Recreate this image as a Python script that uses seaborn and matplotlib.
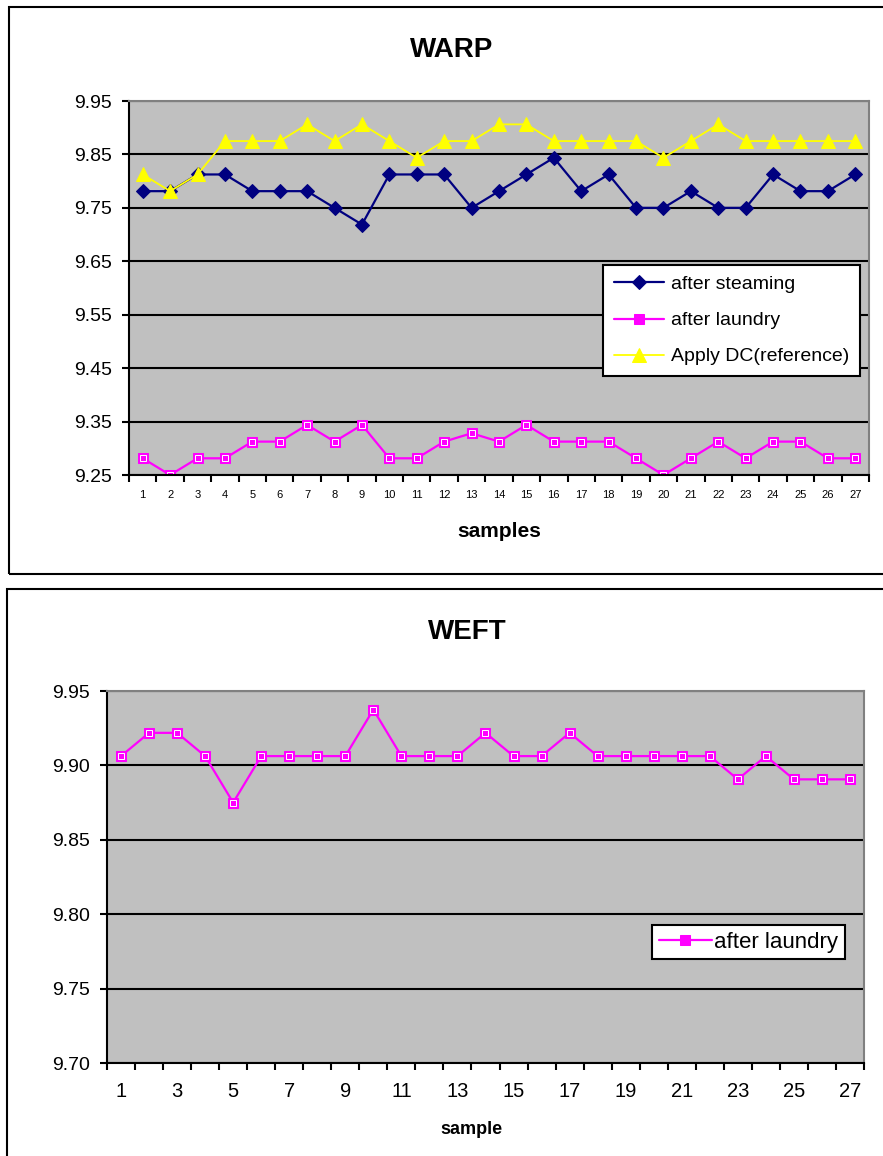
import numpy as np
import pandas as pd
import matplotlib
matplotlib.use("Agg")
import matplotlib.pyplot as plt
import seaborn as sns
from matplotlib.patches import Rectangle

# ---- data -------------------------------------------------------------
samples = list(range(1, 28))

warp_after_steaming = [9.78125, 9.78125, 9.8125, 9.8125, 9.78125, 9.78125, 9.78125,
                       9.75, 9.71875, 9.8125, 9.8125, 9.8125, 9.75, 9.78125,
                       9.8125, 9.84375, 9.78125, 9.8125, 9.75, 9.75, 9.78125,
                       9.75, 9.75, 9.8125, 9.78125, 9.78125, 9.8125]

warp_after_laundry = [9.28125, 9.25, 9.28125, 9.28125, 9.3125, 9.3125, 9.34375,
                      9.3125, 9.34375, 9.28125, 9.28125, 9.3125, 9.328125, 9.3125,
                      9.34375, 9.3125, 9.3125, 9.3125, 9.28125, 9.25, 9.28125,
                      9.3125, 9.28125, 9.3125, 9.3125, 9.28125, 9.28125]

warp_reference = [9.8125, 9.78125, 9.8125, 9.875, 9.875, 9.875, 9.90625,
                  9.875, 9.90625, 9.875, 9.84375, 9.875, 9.875, 9.90625,
                  9.90625, 9.875, 9.875, 9.875, 9.875, 9.84375, 9.875,
                  9.90625, 9.875, 9.875, 9.875, 9.875, 9.875]

weft_after_laundry = [9.90625, 9.921875, 9.921875, 9.90625, 9.875, 9.90625, 9.90625,
                      9.90625, 9.90625, 9.9375, 9.90625, 9.90625, 9.90625, 9.921875,
                      9.90625, 9.90625, 9.921875, 9.90625, 9.90625, 9.90625, 9.90625,
                      9.90625, 9.890625, 9.90625, 9.890625, 9.890625, 9.890625]

warp_yticks = [9.25, 9.35, 9.45, 9.55, 9.65, 9.75, 9.85, 9.95]
weft_yticks = [9.70, 9.75, 9.80, 9.85, 9.90, 9.95]
weft_xticks = list(range(1, 28, 2))

# ---- figure setup -----------------------------------------------------
sns.set_theme(style="white")
plt.rcParams["font.family"] = ["Liberation Sans", "DejaVu Sans"]
plt.rcParams.update({"text.color": "black", "axes.labelcolor": "black",
                     "xtick.color": "black", "ytick.color": "black"})

W, H = 883, 1156
fig = plt.figure(figsize=(W / 100, H / 100), dpi=100)
fig.patch.set_facecolor("white")


def px_axes(left, top, right, bottom):
    return fig.add_axes([left / W, 1 - bottom / H, (right - left) / W, (bottom - top) / H])


def style_axes(ax, yticks, ylim):
    ax.set_facecolor("#C0C0C0")
    for side in ("left", "bottom"):
        ax.spines[side].set_color("black")
        ax.spines[side].set_linewidth(1.5)
    for side in ("top", "right"):
        ax.spines[side].set_color("#808080")
        ax.spines[side].set_linewidth(1.5)
    ax.set_ylim(*ylim)
    ax.set_xlim(0.5, 27.5)
    ax.set_yticks(yticks)
    ax.set_yticklabels([f"{v:.2f}" for v in yticks])
    ax.yaxis.grid(True, color="black", linewidth=1.5)
    ax.xaxis.grid(False)
    ax.set_axisbelow(True)
    ax.set_xticks(np.arange(0.5, 28, 1.0), minor=True)
    ax.tick_params(axis="y", which="major", left=True, direction="out", length=5,
                   width=1.5, color="black", labelsize=14, pad=7, labelcolor="black")
    ax.tick_params(axis="x", which="minor", bottom=True, direction="out", length=5,
                   width=1.5, color="black")
    ax.set_xlabel("")
    ax.set_ylabel("")


# outer chart frames
fig.patches.append(Rectangle((9 / W, 1 - 574 / H), 1.2, (574 - 7) / H, transform=fig.transFigure,
                             fill=False, edgecolor="black", linewidth=1.5))
fig.patches.append(Rectangle((7 / W, -0.2), 1.2, (1 - 589 / H) + 0.2, transform=fig.transFigure,
                             fill=False, edgecolor="black", linewidth=1.5))

# ---- WARP chart -------------------------------------------------------
ax1 = px_axes(129, 101, 869, 475)
sns.lineplot(x=samples, y=warp_after_steaming, ax=ax1, color="#000080", linewidth=1.6,
             marker="D", markersize=7, markeredgecolor="#000080", label="after steaming")
sns.lineplot(x=samples, y=warp_after_laundry, ax=ax1, color="#FF00FF", linewidth=1.6,
             marker="s", markersize=7, markeredgecolor="#FF00FF", label="after laundry")
sns.lineplot(x=samples, y=warp_after_laundry, ax=ax1, linestyle="", marker="s",
             markersize=4, markerfacecolor="#FF00FF", markeredgecolor="white",
             markeredgewidth=0.7)
sns.lineplot(x=samples, y=warp_reference, ax=ax1, color="#FFFF00", linewidth=1.3,
             marker="^", markersize=10, markeredgecolor="#FFFF00", label="Apply DC(reference)")
style_axes(ax1, warp_yticks, (9.25, 9.95))
ax1.set_xticks(samples)
ax1.set_xticklabels([str(s) for s in samples])
ax1.tick_params(axis="x", which="major", bottom=True, length=0, labelsize=8, pad=11,
                labelcolor="black")

handles, labels = ax1.get_legend_handles_labels()
leg1 = ax1.legend(handles[:3], labels[:3], loc="upper left", bbox_to_anchor=(0.6405, 0.5615),
                  fontsize=14, frameon=True, fancybox=False, framealpha=1,
                  edgecolor="black", facecolor="white", handlelength=2.6,
                  handletextpad=0.35, labelspacing=0.95, borderpad=0.55, borderaxespad=0)
leg1.get_frame().set_linewidth(1.5)

fig.text(452 / W, 1 - 50 / H, "WARP", ha="center", va="center", fontsize=20,
         fontweight="bold", color="black")
fig.text(499 / W, 1 - 532 / H, "samples", ha="center", va="center", fontsize=15,
         fontweight="bold", color="black")

# ---- WEFT chart -------------------------------------------------------
ax2 = px_axes(107, 691, 864, 1063)
sns.lineplot(x=samples, y=weft_after_laundry, ax=ax2, color="#FF00FF", linewidth=1.6,
             marker="s", markersize=7.5, markeredgecolor="#FF00FF", label="after laundry")
sns.lineplot(x=samples, y=weft_after_laundry, ax=ax2, linestyle="", marker="s",
             markersize=4.2, markerfacecolor="#FF00FF", markeredgecolor="white",
             markeredgewidth=0.7)
style_axes(ax2, weft_yticks, (9.70, 9.95))
ax2.set_xticks(weft_xticks)
ax2.set_xticklabels([str(s) for s in weft_xticks])
ax2.tick_params(axis="x", which="major", bottom=True, length=0, labelsize=14.5, pad=14,
                labelcolor="black")

handles, labels = ax2.get_legend_handles_labels()
leg2 = ax2.legend(handles[:1], labels[:1], loc="upper left", bbox_to_anchor=(0.72, 0.371),
                  fontsize=16, frameon=True, fancybox=False, framealpha=1,
                  edgecolor="black", facecolor="white", handlelength=2.4,
                  handletextpad=0.1, borderpad=0.3, borderaxespad=0)
leg2.get_frame().set_linewidth(1.5)

fig.text(467 / W, 1 - 632 / H, "WEFT", ha="center", va="center", fontsize=20,
         fontweight="bold", color="black")
fig.text(471 / W, 1 - 1130 / H, "sample", ha="center", va="center", fontsize=13,
         fontweight="bold", color="black")

fig.savefig("out.png", dpi=100, facecolor="white")
